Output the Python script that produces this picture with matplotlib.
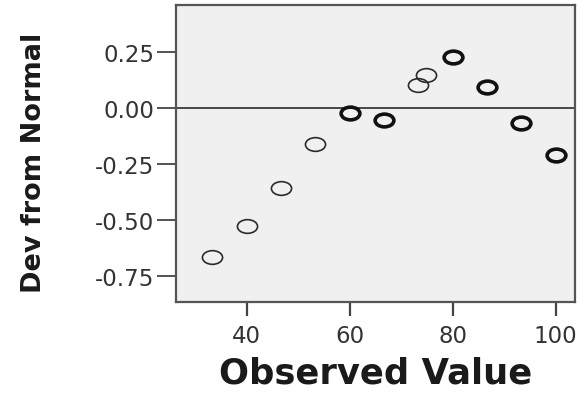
import numpy as np
import matplotlib
matplotlib.use('Agg')
import matplotlib.pyplot as plt
from matplotlib.path import Path

# Detrended normal Q-Q plot values
observed = [33.3, 40.0, 46.7, 53.3, 60.0, 66.7, 73.3, 74.8, 80.0, 86.7, 93.3, 100.0]
dev_from_normal = [-0.665, -0.525, -0.358, -0.162, -0.022, -0.055, 0.104, 0.148, 0.227, 0.093, -0.067, -0.208]
# cases sitting on the same spot (drawn with a heavier ring)
counts = [1, 1, 1, 1, 2, 2, 1, 1, 2, 2, 2, 2]

x_ticks = [40, 60, 80, 100]
y_ticks = [0.25, 0.00, -0.25, -0.50, -0.75]

# the reference is stretched sideways, so the rings are flat ellipses
circle = Path.unit_circle()
ellipse = Path(circle.vertices * np.array([1.0, 0.68]), circle.codes)

fig = plt.figure(figsize=(5.88, 4.02), dpi=100)
ax = fig.add_axes([0.2993, 0.247, 0.978 - 0.2993, 0.985 - 0.247])
ax.set_facecolor('#f0f0f0')

ax.axhline(0, color='#3a3a3a', linewidth=1.3, zorder=1)

obs = np.array(observed)
dev = np.array(dev_from_normal)
cnt = np.array(counts)
single = cnt == 1
ax.plot(obs[single], dev[single], linestyle='none', marker=ellipse, markersize=14.5,
        markerfacecolor='none', markeredgecolor='#2b2b2b', markeredgewidth=1.2, zorder=3)
ax.plot(obs[~single], dev[~single], linestyle='none', marker=ellipse, markersize=13.5,
        markerfacecolor='none', markeredgecolor='#111111', markeredgewidth=2.6, zorder=3)

ax.set_xlim(26.26, 103.77)
ax.set_ylim(-0.863, 0.458)
ax.set_xticks(x_ticks)
ax.set_yticks(y_ticks)
ax.set_yticklabels(['%.2f' % v for v in y_ticks])

for s in ax.spines.values():
    s.set_color('#555555')
    s.set_linewidth(1.6)

ax.tick_params(axis='y', length=14, width=1.3, color='#444444', pad=1.5,
               labelsize=16.5, labelcolor='#333333')
ax.tick_params(axis='x', length=10, width=1.6, color='#444444', pad=6,
               labelsize=16.5, labelcolor='#333333')

ax.set_xlabel('Observed Value', fontsize=25.5, fontweight='bold', color='#1a1a1a', labelpad=6)
ax.set_ylabel('Dev from Normal', fontsize=19.5, fontweight='bold', color='#1a1a1a')
ax.yaxis.set_label_coords(-0.322, 0.47)

fig.savefig('out.png', dpi=100)
